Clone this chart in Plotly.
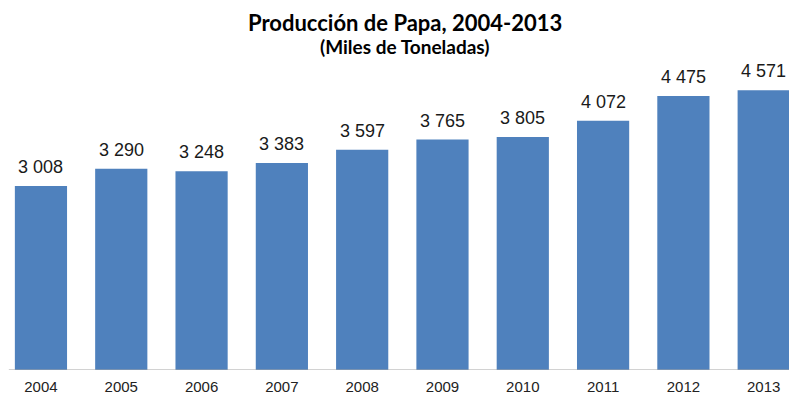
import plotly.graph_objects as go

# Producción de papa (miles de toneladas)
years = ["2004", "2005", "2006", "2007", "2008", "2009", "2010", "2011", "2012", "2013"]
production = [3008, 3290, 3248, 3383, 3597, 3765, 3805, 4072, 4475, 4571]
value_labels = ["3 008", "3 290", "3 248", "3 383", "3 597", "3 765", "3 805", "4 072", "4 475", "4 571"]

BAR_COLOR = "#4F81BD"
NARROW = "Liberation Sans Narrow, Arial Narrow, Liberation Sans, Arial, sans-serif"

fig = go.Figure(
    go.Bar(
        x=years,
        y=production,
        marker=dict(color=BAR_COLOR, line=dict(width=0)),
        hoverinfo="x+y",
    )
)

# value labels above each bar (category axis -> position by index)
for i, (val, lab) in enumerate(zip(production, value_labels)):
    fig.add_annotation(
        x=i, y=val, xref="x", yref="y", text=lab, showarrow=False,
        xanchor="center", yanchor="bottom", yshift=7,
        font=dict(family=NARROW, size=18, color="#1a1a1a"),
    )

# title and subtitle
fig.add_annotation(
    x=405 / 789, y=1.0, xref="paper", yref="paper",
    yshift=29, text="<b>Producción de Papa, 2004-2013</b>", showarrow=False,
    xanchor="center", yanchor="middle",
    font=dict(family="Lato, Open Sans, sans-serif", size=22, color="#000000"),
)
fig.add_annotation(
    x=405 / 789, y=1.0, xref="paper", yref="paper",
    yshift=5, text="<b>(Miles de Toneladas)</b>", showarrow=False,
    xanchor="center", yanchor="middle",
    font=dict(family="Lato, Open Sans, sans-serif", size=19, color="#000000"),
)

# baseline
fig.add_shape(
    type="line", xref="x", yref="y",
    x0=-0.4, x1=9.5, y0=0, y1=0,
    line=dict(color="#A6A6A6", width=1.2),
)

fig.update_layout(
    width=789, height=394,
    margin=dict(l=0, r=0, t=51, b=24, autoexpand=False),
    paper_bgcolor="white", plot_bgcolor="white",
    bargap=0.35,
    showlegend=False,
    xaxis=dict(
        type="category",
        range=[-0.51, 9.315],
        automargin=False,
        showgrid=False, showline=False, zeroline=False,
        ticks="", ticklabelstandoff=6,
        tickfont=dict(family=NARROW, size=15, color="#222222"),
    ),
    yaxis=dict(
        range=[0, 5212],
        automargin=False,
        showticklabels=False, showgrid=False, showline=False,
        zeroline=False, ticks="",
    ),
)

fig.write_html("out.html")
